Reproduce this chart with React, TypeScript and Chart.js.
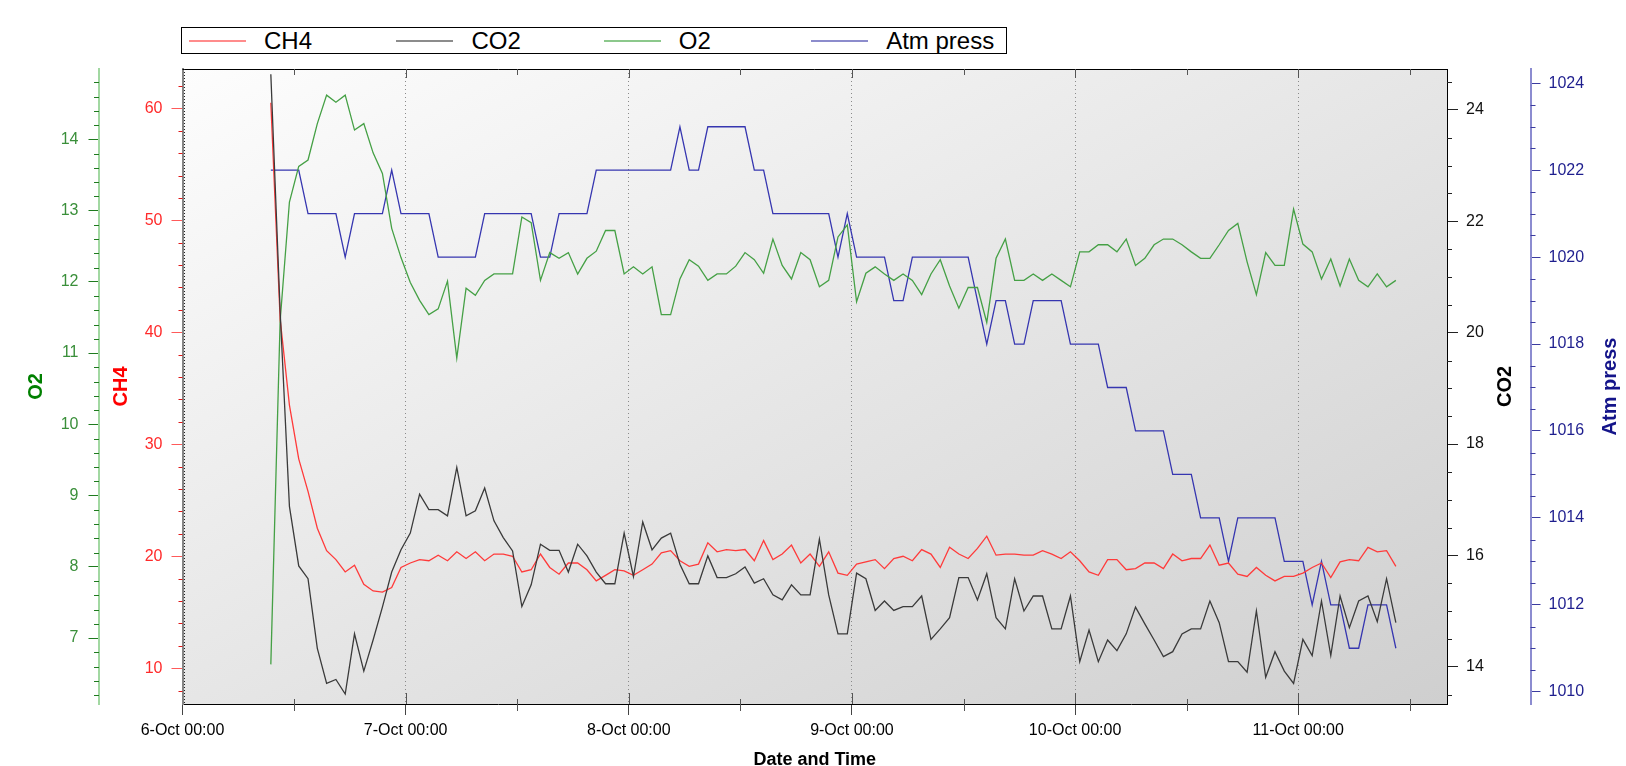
import React, { useEffect, useRef } from 'react';
import { Chart, registerables } from 'chart.js';

Chart.register(...registerables);

// Sampling: hourly readings starting 6-Oct 09:30 (hours since 6-Oct 00:00)
const START_HOUR = 9.5;
const STEP_HOURS = 1;

const SERIES_NAMES = ['CH4', 'CO2', 'O2', 'Atm press'];

const CH4 = [
  60.5, 41.2, 33.5, 28.7, 25.8, 22.5, 20.5, 19.7, 18.6, 19.2,
  17.5, 16.9, 16.8, 17.2, 19.0, 19.4, 19.7, 19.6, 20.1, 19.6,
  20.4, 19.8, 20.4, 19.6, 20.2, 20.2, 20.0, 18.6, 18.8, 20.2,
  19.0, 18.4, 19.4, 19.4, 18.8, 17.8, 18.3, 18.8, 18.7, 18.3,
  18.8, 19.3, 20.3, 20.5, 19.6, 19.1, 19.3, 21.2, 20.4, 20.6,
  20.5, 20.6, 19.6, 21.4, 19.7, 20.2, 21.0, 19.4, 20.2, 19.1,
  20.4, 18.5, 18.3, 19.3, 19.5, 19.7, 18.9, 19.8, 20.0, 19.6,
  20.6, 20.2, 19.0, 20.8, 20.2, 19.8, 20.7, 21.8, 20.1, 20.2,
  20.2, 20.1, 20.1, 20.5, 20.2, 19.8, 20.4, 19.6, 18.6, 18.3,
  19.7, 19.7, 18.8, 18.9, 19.4, 19.4, 18.9, 20.2, 19.6, 19.8,
  19.8, 21.0, 19.2, 19.4, 18.4, 18.2, 19.0, 18.3, 17.8, 18.2,
  18.2, 18.5, 19.0, 19.4, 18.1, 19.5, 19.7, 19.6, 20.8, 20.4,
  20.5, 19.1,
];

const CO2 = [
  24.64, 20.39, 16.88, 15.81, 15.58, 14.33, 13.70, 13.77, 13.51, 14.59,
  13.92, 14.48, 15.07, 15.70, 16.10, 16.40, 17.10, 16.82, 16.82, 16.71,
  17.58, 16.71, 16.80, 17.21, 16.62, 16.32, 16.08, 15.08, 15.47, 16.20,
  16.09, 16.09, 15.70, 16.20, 15.99, 15.70, 15.49, 15.49, 16.40, 15.62,
  16.60, 16.10, 16.31, 16.40, 15.84, 15.49, 15.49, 15.99, 15.60, 15.60,
  15.67, 15.79, 15.50, 15.58, 15.29, 15.20, 15.47, 15.29, 15.29, 16.29,
  15.29, 14.59, 14.59, 15.68, 15.58, 15.01, 15.18, 15.01, 15.08, 15.08,
  15.27, 14.49, 14.68, 14.88, 15.60, 15.60, 15.20, 15.67, 14.88, 14.68,
  15.58, 15.00, 15.27, 15.27, 14.68, 14.68, 15.27, 14.09, 14.66, 14.09,
  14.48, 14.29, 14.59, 15.07, 14.77, 14.48, 14.18, 14.27, 14.59, 14.68,
  14.68, 15.18, 14.79, 14.09, 14.09, 13.90, 15.00, 13.81, 14.27, 13.92,
  13.70, 14.49, 14.20, 15.18, 14.20, 15.27, 14.70, 15.18, 15.27, 14.81,
  15.58, 14.79,
];

const O2 = [
  6.63, 11.45, 13.12, 13.62, 13.71, 14.22, 14.62, 14.52, 14.62, 14.13,
  14.22, 13.81, 13.52, 12.75, 12.34, 11.99, 11.74, 11.54, 11.62, 12.01,
  10.93, 11.91, 11.81, 12.02, 12.11, 12.11, 12.11, 12.91, 12.83, 12.02,
  12.41, 12.33, 12.41, 12.11, 12.33, 12.43, 12.72, 12.72, 12.11, 12.21,
  12.11, 12.21, 11.54, 11.54, 12.04, 12.31, 12.22, 12.02, 12.11, 12.11,
  12.22, 12.41, 12.31, 12.12, 12.60, 12.23, 12.04, 12.41, 12.31, 11.93,
  12.02, 12.63, 12.80, 11.72, 12.12, 12.21, 12.11, 12.02, 12.11, 12.02,
  11.82, 12.11, 12.31, 11.94, 11.63, 11.92, 11.92, 11.43, 12.33, 12.60,
  12.02, 12.02, 12.11, 12.02, 12.11, 12.02, 11.93, 12.42, 12.42, 12.52,
  12.52, 12.42, 12.60, 12.23, 12.33, 12.52, 12.60, 12.60, 12.52, 12.42,
  12.33, 12.33, 12.52, 12.72, 12.82, 12.28, 11.82, 12.41, 12.23, 12.23,
  13.02, 12.53, 12.42, 12.04, 12.32, 11.94, 12.32, 12.02, 11.93, 12.11,
  11.93, 12.02,
];

const ATM = [
  1022, 1022, 1022, 1022, 1021, 1021, 1021, 1021, 1020, 1021,
  1021, 1021, 1021, 1022, 1021, 1021, 1021, 1021, 1020, 1020,
  1020, 1020, 1020, 1021, 1021, 1021, 1021, 1021, 1021, 1020,
  1020, 1021, 1021, 1021, 1021, 1022, 1022, 1022, 1022, 1022,
  1022, 1022, 1022, 1022, 1023, 1022, 1022, 1023, 1023, 1023,
  1023, 1023, 1022, 1022, 1021, 1021, 1021, 1021, 1021, 1021,
  1021, 1020, 1021, 1020, 1020, 1020, 1020, 1019, 1019, 1020,
  1020, 1020, 1020, 1020, 1020, 1020, 1019, 1018, 1019, 1019,
  1018, 1018, 1019, 1019, 1019, 1019, 1018, 1018, 1018, 1018,
  1017, 1017, 1017, 1016, 1016, 1016, 1016, 1015, 1015, 1015,
  1014, 1014, 1014, 1013, 1014, 1014, 1014, 1014, 1014, 1013,
  1013, 1013, 1012, 1013, 1012, 1012, 1011, 1011, 1012, 1012,
  1012, 1011,
];

const X_TICK_HOURS = [0, 24, 48, 72, 96, 120];
const X_TICK_LABELS = ['6-Oct 00:00', '7-Oct 00:00', '8-Oct 00:00', '9-Oct 00:00', '10-Oct 00:00', '11-Oct 00:00'];
const CH4_TICKS = [10, 20, 30, 40, 50, 60];
const O2_TICKS = [7, 8, 9, 10, 11, 12, 13, 14];
const CO2_TICKS = [14, 16, 18, 20, 22, 24];
const ATM_TICKS = [1010, 1012, 1014, 1016, 1018, 1020, 1022, 1024];

const FONT = '"Liberation Sans", Arial, sans-serif';

const LINE_COLORS = ['#ff3a3a', '#3a3a3a', '#45a045', '#3636b0'];
const LEGEND_COLORS = ['#ff8c8c', '#8c8c8c', '#8cc88c', '#8c8ccc'];

const toPoints = (arr: number[]) => arr.map((v, i) => ({ x: START_HOUR + i * STEP_HOURS, y: v }));
const plainLabel = (v: any) => String(v);

function drawMinor(ctx: CanvasRenderingContext2D, scale: any, step: number, majors: number[], xFrom: number, len: number, color: string) {
  const lo = Math.ceil(scale.min / step - 1e-9);
  const hi = Math.floor(scale.max / step + 1e-9);
  ctx.strokeStyle = color;
  ctx.lineWidth = 1;
  ctx.beginPath();
  for (let k = lo; k <= hi; k++) {
    const v = k * step;
    if (majors.some((m) => Math.abs(m - v) < 1e-6)) continue;
    const y = Math.round(scale.getPixelForValue(v)) + 0.5;
    ctx.moveTo(xFrom, y);
    ctx.lineTo(xFrom + len, y);
  }
  ctx.stroke();
}

const decorPlugin = {
  id: 'decor',
  beforeDraw(chart: any) {
    const { ctx, chartArea: a } = chart;
    const W = a.right - a.left;
    const H = a.bottom - a.top;
    const k = (2 * W * H) / (W * W + H * H);
    const g = ctx.createLinearGradient(a.left, a.top, a.left + H * k, a.top + W * k);
    g.addColorStop(0, '#fdfdfd');
    g.addColorStop(1, '#cfcfcf');
    ctx.save();
    ctx.fillStyle = g;
    ctx.fillRect(a.left, a.top, W, H);
    ctx.restore();
  },
  afterDraw(chart: any) {
    const { ctx, chartArea: a, scales } = chart;
    ctx.save();
    // y-axis minor ticks
    drawMinor(ctx, scales.yO2, 0.2, O2_TICKS, scales.yO2.right, -5, '#1f7a1f');
    drawMinor(ctx, scales.yCH4, 2, CH4_TICKS, a.left, -4, '#e01818');
    drawMinor(ctx, scales.yCO2, 0.5, CO2_TICKS, a.right, 5, '#222');
    drawMinor(ctx, scales.yATM, 0.5, ATM_TICKS, scales.yATM.left, 5, '#3c3ca0');

    // top frame
    ctx.strokeStyle = '#000';
    ctx.lineWidth = 1;
    ctx.beginPath();
    ctx.moveTo(a.left, Math.round(a.top) + 0.5);
    ctx.lineTo(a.right, Math.round(a.top) + 0.5);
    ctx.stroke();

    // dotted inner edge on left
    ctx.strokeStyle = '#222';
    ctx.setLineDash([1, 2]);
    ctx.beginPath();
    ctx.moveTo(Math.round(a.left) + 1.5, a.top);
    ctx.lineTo(Math.round(a.left) + 1.5, a.bottom);
    ctx.stroke();
    ctx.setLineDash([]);

    // x inner ticks (major) and minor ticks
    const xs = scales.x;
    ctx.strokeStyle = '#555';
    ctx.beginPath();
    for (const h of X_TICK_HOURS) {
      if (h === 0) continue;
      const x = Math.round(xs.getPixelForValue(h)) + 0.5;
      ctx.moveTo(x, a.top);
      ctx.lineTo(x, a.top + 9);
      ctx.moveTo(x, a.bottom - 11);
      ctx.lineTo(x, a.bottom);
    }
    for (let h = 12; h <= xs.max; h += 24) {
      const x = Math.round(xs.getPixelForValue(h)) + 0.5;
      ctx.moveTo(x, a.top);
      ctx.lineTo(x, a.top + 6);
      ctx.moveTo(x, a.bottom - 5);
      ctx.lineTo(x, a.bottom + 7);
    }
    ctx.stroke();

    // right-hand axis titles (rotated like the left ones)
    const cy = (a.top + a.bottom) / 2;
    ctx.font = `bold 20px ${FONT}`;
    ctx.textAlign = 'center';
    ctx.textBaseline = 'middle';
    ctx.save();
    ctx.translate(scales.yCO2.left + 58, cy);
    ctx.rotate(-Math.PI / 2);
    ctx.fillStyle = '#000';
    ctx.fillText(SERIES_NAMES[1], 0, 0);
    ctx.restore();
    ctx.save();
    ctx.translate(scales.yATM.left + 79.5, cy);
    ctx.rotate(-Math.PI / 2);
    ctx.fillStyle = '#14148a';
    ctx.fillText(SERIES_NAMES[3], 0, 0);
    ctx.restore();
    ctx.restore();
  },
};

function fixedWidth(w: number) {
  return (scale: any) => {
    scale.width = w;
  };
}

function setTicks(values: number[]) {
  return (scale: any) => {
    scale.ticks = values.map((v) => ({ value: v }));
  };
}

export default function App() {
  const canvasRef = useRef<HTMLCanvasElement | null>(null);

  useEffect(() => {
    const canvas = canvasRef.current;
    if (!canvas) return;
    Chart.defaults.font.family = FONT;
    const chart = new Chart(canvas, {
      type: 'line',
      data: {
        datasets: [
          { label: SERIES_NAMES[0], data: toPoints(CH4), yAxisID: 'yCH4', borderColor: LINE_COLORS[0], borderWidth: 1.3, pointRadius: 0, tension: 0, order: 2 },
          { label: SERIES_NAMES[1], data: toPoints(CO2), yAxisID: 'yCO2', borderColor: LINE_COLORS[1], borderWidth: 1.3, pointRadius: 0, tension: 0, order: 1 },
          { label: SERIES_NAMES[2], data: toPoints(O2), yAxisID: 'yO2', borderColor: LINE_COLORS[2], borderWidth: 1.3, pointRadius: 0, tension: 0, order: 3 },
          { label: SERIES_NAMES[3], data: toPoints(ATM), yAxisID: 'yATM', borderColor: LINE_COLORS[3], borderWidth: 1.3, pointRadius: 0, tension: 0, order: 4 },
        ],
      },
      options: {
        responsive: false,
        animation: false,
        events: [],
        layout: { padding: { top: 69, left: 0, right: 0, bottom: 0 } },
        plugins: { legend: { display: false }, tooltip: { enabled: false }, title: { display: false } },
        scales: {
          x: {
            type: 'linear',
            position: 'bottom',
            min: 0,
            max: 136,
            afterBuildTicks: setTicks(X_TICK_HOURS),
            afterFit: (scale: any) => {
              scale.height = 62;
            },
            ticks: {
              autoSkip: false,
              maxRotation: 0,
              padding: 6,
              color: '#000',
              font: { size: 16 },
              callback: (value: any) => X_TICK_LABELS[X_TICK_HOURS.indexOf(Number(value))] ?? '',
            },
            grid: {
              drawOnChartArea: true,
              color: (c: any) => (c.tick && c.tick.value === 0 ? 'rgba(0,0,0,0)' : '#8a8a8a'),
              tickColor: '#444',
              tickLength: 11,
              lineWidth: 1,
            },
            border: { display: true, color: '#000', width: 1, dash: [1, 3] },
            title: {
              display: true,
              text: 'Date and Time',
              color: '#000',
              font: { size: 18, weight: 'bold', lineHeight: 1 },
              padding: { top: 0, bottom: -3 },
            },
          },
          yO2: {
            type: 'linear',
            position: 'left',
            weight: 2,
            min: 6.074,
            max: 14.987,
            afterBuildTicks: setTicks(O2_TICKS),
            afterFit: fixedWidth(99),
            ticks: { color: '#3a8f3a', font: { size: 16 }, padding: 10, callback: plainLabel },
            grid: { drawOnChartArea: false, tickColor: '#1f7a1f', tickLength: 10.5 },
            border: { display: true, color: '#a2d8a2', width: 2 },
            title: { display: true, text: SERIES_NAMES[2], color: '#008000', font: { size: 20, weight: 'bold' }, padding: { top: 24.7, bottom: 0 } },
          },
          yCH4: {
            type: 'linear',
            position: 'left',
            weight: 1,
            min: 6.81,
            max: 63.51,
            afterBuildTicks: setTicks(CH4_TICKS),
            afterFit: fixedWidth(83.5),
            ticks: { color: '#ff2a2a', font: { size: 16 }, padding: 9, callback: plainLabel },
            grid: { drawOnChartArea: false, tickColor: '#ff5a5a', tickLength: 11 },
            border: { display: true, color: '#858585', width: 2 },
            title: { display: true, text: SERIES_NAMES[0], color: '#ff0000', font: { size: 20, weight: 'bold' }, padding: { top: 10, bottom: 0 } },
          },
          yCO2: {
            type: 'linear',
            position: 'right',
            weight: 1,
            min: 13.33,
            max: 24.736,
            afterBuildTicks: setTicks(CO2_TICKS),
            afterFit: fixedWidth(83.5),
            ticks: { color: '#111', font: { size: 16 }, padding: 8, callback: plainLabel },
            grid: { drawOnChartArea: false, tickColor: '#222', tickLength: 11 },
            border: { display: true, color: '#000', width: 1 },
            title: { display: false },
          },
          yATM: {
            type: 'linear',
            position: 'right',
            weight: 2,
            min: 1009.717,
            max: 1024.329,
            afterBuildTicks: setTicks(ATM_TICKS),
            afterFit: fixedWidth(95.5),
            ticks: { color: '#1e1e8e', font: { size: 16 }, padding: 8, callback: plainLabel },
            grid: { drawOnChartArea: false, tickColor: '#3c3ca0', tickLength: 10 },
            border: { display: true, color: '#8c8cd0', width: 2 },
            title: { display: false },
          },
        },
      } as any,
      plugins: [decorPlugin],
    });
    return () => chart.destroy();
  }, []);

  return (
    <div style={{ position: 'absolute', left: 0, top: 0, width: 1626, height: 766, background: '#fff', overflow: 'hidden' }}>
      <canvas ref={canvasRef} width={1626} height={766} style={{ position: 'absolute', left: 0, top: 0 }} />
      <div
        style={{
          position: 'absolute',
          left: 181,
          top: 27,
          width: 826,
          height: 27,
          border: '1px solid #000',
          boxSizing: 'border-box',
          background: '#fff',
          fontFamily: FONT,
        }}
      >
        {SERIES_NAMES.map((name, k) => (
          <div
            key={name}
            style={{ position: 'absolute', left: 7 + 207.4 * k, top: 0, height: 25, display: 'flex', alignItems: 'center' }}
          >
            <span style={{ display: 'inline-block', width: 57, height: 2, background: LEGEND_COLORS[k] }} />
            <span style={{ marginLeft: 18, fontSize: 24, lineHeight: '25px', color: '#000', whiteSpace: 'nowrap' }}>{name}</span>
          </div>
        ))}
      </div>
    </div>
  );
}
